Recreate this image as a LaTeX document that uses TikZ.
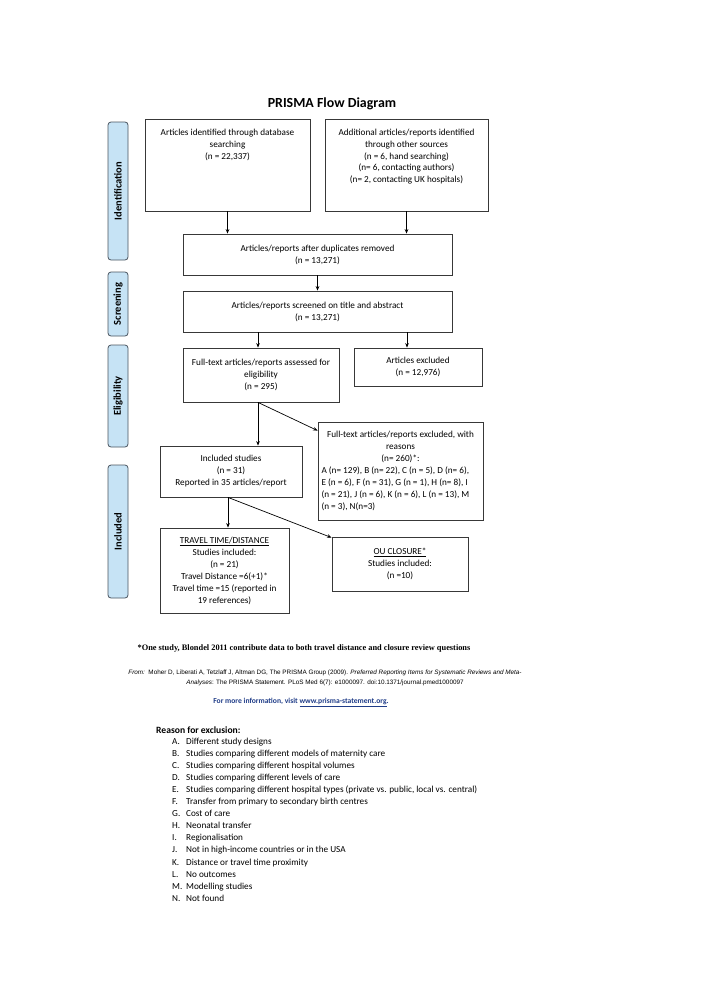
\documentclass[tikz,border=0pt]{standalone}
\usepackage{fontspec}
\setmainfont{Carlito}
\newfontfamily\timesf{Liberation Serif}
\newfontfamily\arialf{Liberation Sans}
\usetikzlibrary{arrows.meta,calc}
\definecolor{sideblue}{HTML}{C6E3F5}
\definecolor{sidegray}{HTML}{4A5560}
\definecolor{boxgray}{HTML}{383838}
\definecolor{linkblue}{HTML}{1F3C88}
\begin{document}
\begin{tikzpicture}[x=1pt,y=-1pt,
  font=\fontsize{9.2}{12}\selectfont,
  box/.style={draw=boxgray, line width=0.8pt, inner sep=0pt, align=center},
  side/.style={draw=sidegray, fill=sideblue, rounded corners=3pt, line width=0.8pt,
    rotate=90, minimum height=20pt, inner sep=0pt, font=\bfseries\fontsize{10.5}{12}\selectfont},
  arr/.style={-{Stealth[length=4.5pt,width=3.6pt]}, line width=0.7pt, draw=black}]
\useasboundingbox (0,0) rectangle (708,1001);
\fill[white] (0,0) rectangle (708,1001);

\node (title) at (332,104) {\bfseries\fontsize{13.9}{16}\selectfont PRISMA Flow Diagram};

% side bars
\node[side, minimum width=138pt] (sid) at (118,191) {Identification};
\node[side, minimum width=64pt]  (sscr) at (118,304) {Screening};
\node[side, minimum width=102pt] (selg) at (118,396) {Eligibility};
\node[side, minimum width=133pt] (sinc) at (118,531.5) {Included};

% boxes
\node[box] (b1) at (227.5,165) {\parbox[c][92pt][t]{165pt}{\centering\vspace*{10.5pt}Articles identified through database\\searching\\(n = 22,337)}};
\node[box] (b2) at (406.5,165) {\parbox[c][92pt][t]{163pt}{\centering\vspace*{10.5pt}\fontsize{9.2}{11.6}\selectfont Additional articles/reports identified\\through other sources\\(n = 6, hand searching)\\(n= 6, contacting authors)\\(n= 2, contacting UK hospitals)}};
\node[box, minimum width=269pt, minimum height=41pt] (b3) at (317.5,254.5) {Articles/reports after duplicates removed\\(n = 13,271)};
\node[box, minimum width=269pt, minimum height=41pt] (b4) at (317.5,311.5) {Articles/reports screened on title and abstract\\(n = 13,271)};
\node[box, minimum width=156pt, minimum height=54pt] (b5) at (261,375) {Full-text articles/reports assessed for\\eligibility\\(n = 295)};
\node[box, minimum width=128pt, minimum height=38pt] (b6) at (418,367) {Articles excluded\\(n = 12,976)};
\node[box, minimum width=165pt, minimum height=98pt] (b7) at (400.5,471) {\parbox{158pt}{\centering Full-text articles/reports excluded, with\\reasons\\(n= 260)*:\par\raggedright A (n= 129), B (n= 22), C (n = 5), D (n= 6),\\E (n = 6), F (n = 31), G (n = 1), H (n= 8), I\\(n = 21), J (n = 6), K (n = 6), L (n = 13), M\\(n = 3), N(n=3)}};
\node[box, minimum width=142pt, minimum height=51pt] (b8) at (231,471.5) {Included studies\\(n = 31)\\Reported in 35 articles/report};
\node[box, minimum width=129pt, minimum height=85pt] (b9) at (224.5,570.5) {\underline{TRAVEL TIME/DISTANCE}\\Studies included:\\(n = 21)\\Travel Distance =6(+1)*\\Travel time =15 (reported in\\19 references)};
\node[box, minimum width=136pt, minimum height=54pt] (b10) at (400,564) {\underline{OU CLOSURE*}\\Studies included:\\(n =10)};

% arrows
\draw[arr] (b1.south) -- (b1.south |- b3.north);
\draw[arr] (b2.south) -- (b2.south |- b3.north);
\draw[arr] (b3.south) -- (b4.north);
\draw[arr] ([xshift=-3pt]b5.north |- b4.south) -- ([xshift=-3pt]b5.north);
\draw[arr] ([xshift=-11pt]b6.north |- b4.south) -- ([xshift=-11pt]b6.north);
\draw[arr] ([xshift=-3pt]b5.south) -- ([xshift=-3pt]b5.south |- b8.north);
\draw[arr] ([xshift=-3pt]b5.south) -- ([yshift=-9pt]b7.north west);
\draw[arr] ([xshift=-3pt]b8.south) -- ([xshift=-3pt]b8.south |- b9.north);
\draw[arr] ([xshift=-3pt]b8.south) -- ([yshift=-1pt]b10.north west);

% footer
\node (foot) at (304,648) {\timesf\bfseries\fontsize{8.35}{10}\selectfont *One study, Blondel 2011 contribute data to both travel distance and closure review questions};
\node[align=center, font=\arialf\fontsize{6.35}{10}\selectfont] (from) at (325,678) {\textit{From:}\ \ Moher D, Liberati A, Tetzlaff J, Altman DG, The PRISMA Group (2009). \textit{Preferred Reporting Items for Systematic Reviews and Meta-}\\\textit{Analyses}: The PRISMA Statement. PLoS Med 6(7): e1000097. doi:10.1371/journal.pmed1000097};
\node[text=linkblue, font=\bfseries\fontsize{7.6}{9}\selectfont] (info) at (301,702) {For more information, visit \underline{www.prisma-statement.org}.};

% reasons
\node[anchor=base west, inner sep=0pt, font=\bfseries\fontsize{9.6}{11}\selectfont] (rhead) at (156,733) {Reason for exclusion:};
\foreach \l/\t [count=\i] in {A/Different study designs,
  B/Studies comparing different models of maternity care,
  C/Studies comparing different hospital volumes,
  D/Studies comparing different levels of care,
  E/{Studies comparing different hospital types (private vs. public, local vs. central)},
  F/Transfer from primary to secondary birth centres,
  G/Cost of care,
  H/Neonatal transfer,
  I/Regionalisation,
  J/Not in high-income countries or in the USA,
  K/Distance or travel time proximity,
  L/No outcomes,
  M/Modelling studies,
  N/Not found}
  \node[anchor=base west, inner sep=0pt] (r\i) at (172,{744+12.1*(\i-1)}) {\makebox[14pt][l]{\l.}\t};
\end{tikzpicture}
\end{document}
